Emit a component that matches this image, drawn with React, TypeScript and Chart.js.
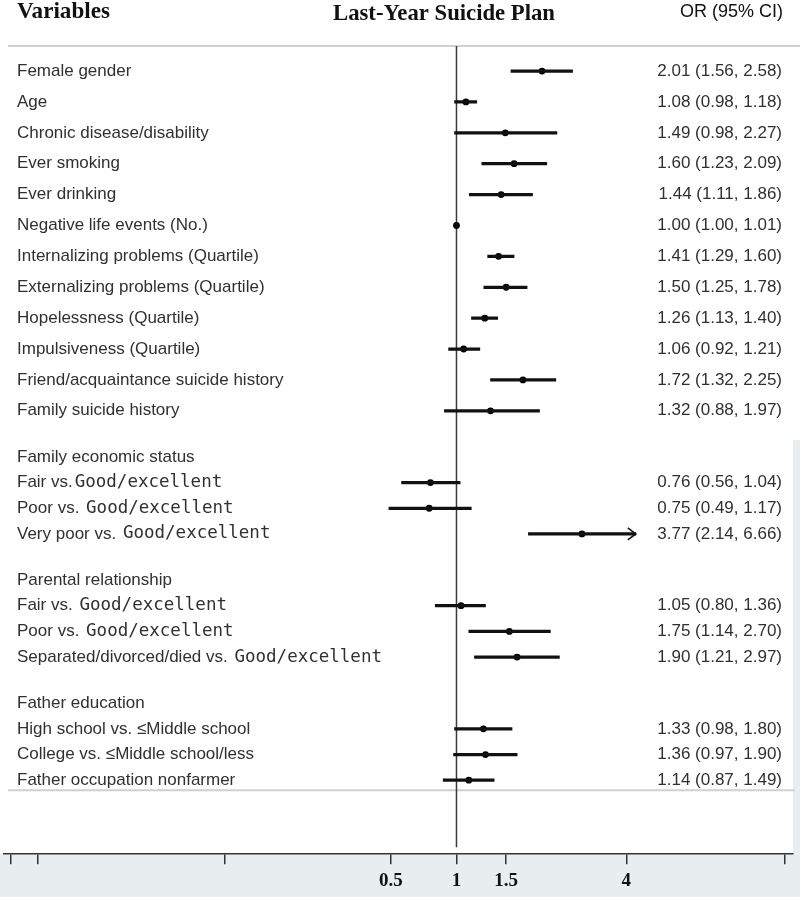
import React, { useEffect, useRef } from 'react';
import { Chart, registerables, LogarithmicScale } from 'chart.js';

// ---------------- data ----------------
const variables = [
  'Female gender',
  'Age',
  'Chronic disease/disability',
  'Ever smoking',
  'Ever drinking',
  'Negative life events (No.)',
  'Internalizing problems (Quartile)',
  'Externalizing problems (Quartile)',
  'Hopelessness (Quartile)',
  'Impulsiveness (Quartile)',
  'Friend/acquaintance suicide history',
  'Family suicide history',
  'Family economic status',
  'Fair vs.Good/excellent',
  'Poor vs. Good/excellent',
  'Very poor vs. Good/excellent',
  'Parental relationship',
  'Fair vs. Good/excellent',
  'Poor vs. Good/excellent',
  'Separated/divorced/died vs. Good/excellent',
  'Father education',
  'High school vs. \u2264Middle school',
  'College vs. \u2264Middle school/less',
  'Father occupation nonfarmer',
];
const oddsRatio = [2.01, 1.08, 1.49, 1.6, 1.44, 1.0, 1.41, 1.5, 1.26, 1.06, 1.72, 1.32, null, 0.76, 0.75, 3.77, null, 1.05, 1.75, 1.9, null, 1.33, 1.36, 1.14];
const ciLower = [1.56, 0.98, 0.98, 1.23, 1.11, 1.0, 1.29, 1.25, 1.13, 0.92, 1.32, 0.88, null, 0.56, 0.49, 2.14, null, 0.8, 1.14, 1.21, null, 0.98, 0.97, 0.87];
const ciUpper = [2.58, 1.18, 2.27, 2.09, 1.86, 1.01, 1.6, 1.78, 1.4, 1.21, 2.25, 1.97, null, 1.04, 1.17, 6.66, null, 1.36, 2.7, 2.97, null, 1.8, 1.9, 1.49];
const axisTickValues = [0.009, 0.012, 0.086, 0.5, 1, 1.5, 4, 14.6];
const axisTickLabels = ['', '', '', '0.5', '1', '1.5', '4', ''];
const headerTexts = ['Variables', 'Last-Year Suicide Plan', 'OR (95% CI)'];
const REF_VALUE = 1;
const ARROW_LIMIT = 4; // CIs reaching past the last labelled tick get an arrow
const MONO_TERM = 'Good/excellent';

// ---------------- layout / style ----------------
const W = 800;
const H = 897;
const PLOT_TOP = 46;
const Y_RANGE = 806;
const FIRST_OFFSET = 25;
const MAIN_STEP = 30.8;
const SUB_STEP = 25.6;
const SECTION_GAP = 46;
const SANS = "17px 'Liberation Sans', Arial, sans-serif";
const MONO = "17.5px 'DejaVu Sans Mono', monospace";
const TEXT = '#303030';
const PANEL_BG = '#e8eef0';

const isHeader = (i: number) => oddsRatio[i] === null;

// row positions follow the table layout: taller rows in the first block, section gaps before headers
const sectionOf: number[] = [];
const rowY: number[] = [];
{
  let y = FIRST_OFFSET;
  let s = 0;
  variables.forEach((_, i) => {
    if (i > 0) {
      if (isHeader(i)) {
        s += 1;
        y += SECTION_GAP;
      } else {
        y += s === 0 ? MAIN_STEP : SUB_STEP;
      }
    }
    sectionOf.push(s);
    rowY.push(y);
  });
}
const mainRows = variables.map((_, i) => i).filter((i) => !isHeader(i) && sectionOf[i] === 0);
const subRows = variables.map((_, i) => i).filter((i) => !isHeader(i) && sectionOf[i] > 0);
const firstHeader = variables.findIndex((_, i) => isHeader(i));

// log scale whose two sides of 1 can have different stretch (the source combines two panels)
class SplitLogScale extends LogarithmicScale {
  static id = 'splitlog';
  static defaults = {};
  buildTicks() {
    const vals: number[] = (this.options as any).tickValues || [];
    return vals.filter((v) => v >= this.min && v <= this.max).map((v) => ({ value: v }));
  }
  _pos(v: number) {
    const o: any = this.options;
    const l = Math.log(v);
    return l < 0 ? l * o.leftWeight : l * o.rightWeight;
  }
  getPixelForValue(value: number) {
    if (value === undefined || value === null || !(value > 0)) return NaN;
    const p0 = this._pos(this.min);
    const p1 = this._pos(this.max);
    return this.getPixelForDecimal((this._pos(value) - p0) / (p1 - p0));
  }
  getValueForPixel(pixel: number) {
    const o: any = this.options;
    const p0 = this._pos(this.min);
    const p1 = this._pos(this.max);
    const p = p0 + this.getDecimalForPixel(pixel) * (p1 - p0);
    return Math.exp(p < 0 ? p / o.leftWeight : p / o.rightWeight);
  }
}

Chart.register(...registerables, SplitLogScale);

function drawLabel(ctx: CanvasRenderingContext2D, text: string, x: number, y: number) {
  const idx = text.indexOf(MONO_TERM);
  ctx.font = SANS;
  if (idx < 0) {
    ctx.fillText(text, x, y);
    return;
  }
  const head = text.slice(0, idx);
  ctx.fillText(head, x, y);
  const w = ctx.measureText(head).width;
  ctx.font = MONO;
  ctx.fillText(text.slice(idx), x + w + 2, y);
}

const fmt = (v: number) => v.toFixed(2);

const decorPlugin = {
  id: 'forestDecor',
  beforeDraw(chart: any) {
    const { ctx, chartArea, width, height } = chart;
    const ys = chart.scales.y;
    ctx.save();
    ctx.fillStyle = '#ffffff';
    ctx.fillRect(0, 0, width, height);
    ctx.fillStyle = PANEL_BG;
    ctx.fillRect(0, chartArea.bottom, width, height - chartArea.bottom);
    const stripTop =
      (ys.getPixelForValue(rowY[firstHeader - 1]) + ys.getPixelForValue(rowY[firstHeader])) / 2 + 6;
    ctx.fillRect(chartArea.right, stripTop, width - chartArea.right, chartArea.bottom - stripTop);
    ctx.strokeStyle = '#d0d0d0';
    ctx.lineWidth = 2;
    ctx.beginPath();
    ctx.moveTo(8, chartArea.top);
    ctx.lineTo(width, chartArea.top);
    const yLast = ys.getPixelForValue(rowY[rowY.length - 1]) + 10;
    ctx.moveTo(8, yLast);
    ctx.lineTo(chartArea.right + 2, yLast);
    ctx.stroke();
    ctx.restore();
  },
  beforeDatasetsDraw(chart: any) {
    const { ctx, chartArea } = chart;
    const x = chart.scales.x.getPixelForValue(REF_VALUE);
    ctx.save();
    ctx.strokeStyle = '#3a3a3a';
    ctx.lineWidth = 1.5;
    ctx.beginPath();
    ctx.moveTo(x, chartArea.top);
    ctx.lineTo(x, chartArea.bottom - 7);
    ctx.stroke();
    ctx.restore();
  },
  afterDatasetsDraw(chart: any) {
    const { ctx } = chart;
    ctx.save();
    ctx.strokeStyle = '#111';
    ctx.lineWidth = 1.6;
    [0, 1].forEach((di) => {
      const rows = di === 0 ? mainRows : subRows;
      const meta = chart.getDatasetMeta(di);
      rows.forEach((r, j) => {
        if ((ciUpper[r] as number) > ARROW_LIMIT) {
          const el = meta.data[j];
          const tip = el.x;
          const y = el.y;
          ctx.beginPath();
          ctx.moveTo(tip - 8, y - 6);
          ctx.lineTo(tip, y);
          ctx.lineTo(tip - 8, y + 6);
          ctx.stroke();
        }
      });
    });
    ctx.restore();
  },
  afterDraw(chart: any) {
    const { ctx } = chart;
    const ys = chart.scales.y;
    ctx.save();
    ctx.textBaseline = 'middle';
    ctx.fillStyle = '#111';
    ctx.textAlign = 'left';
    ctx.font = "bold 24px 'Liberation Serif', 'Times New Roman', serif";
    ctx.fillText(headerTexts[0], 17, 12, 93);
    ctx.fillText(headerTexts[1], 333, 14, 222);
    ctx.font = "18px 'Liberation Sans', Arial, sans-serif";
    ctx.fillText(headerTexts[2], 680, 12, 103);

    ctx.fillStyle = TEXT;
    variables.forEach((label, i) => {
      const y = ys.getPixelForValue(rowY[i]);
      ctx.textAlign = 'left';
      drawLabel(ctx, label, 17, y);
      if (!isHeader(i)) {
        ctx.textAlign = 'right';
        ctx.font = SANS;
        ctx.fillText(
          `${fmt(oddsRatio[i] as number)} (${fmt(ciLower[i] as number)}, ${fmt(ciUpper[i] as number)})`,
          782,
          y
        );
      }
    });
    ctx.restore();
  },
};

export default function App() {
  const ref = useRef<HTMLCanvasElement | null>(null);
  useEffect(() => {
    if (!ref.current) return;
    const barCommon = {
      type: 'bar' as const,
      indexAxis: 'y' as const,
      grouped: false,
      yAxisID: 'y',
      backgroundColor: '#111',
      borderWidth: 0,
      barThickness: 2.6,
    };
    const pointCommon = {
      type: 'scatter' as const,
      yAxisID: 'y',
      backgroundColor: '#000',
      borderColor: '#000',
      borderWidth: 0,
      pointRadius: 3.4,
      pointHoverRadius: 3.4,
    };
    const chart = new Chart(ref.current, {
      type: 'scatter',
      data: {
        datasets: [
          { ...barCommon, xAxisID: 'x', data: mainRows.map((i) => ({ x: [ciLower[i], ciUpper[i]], y: rowY[i] })) },
          { ...barCommon, xAxisID: 'x2', data: subRows.map((i) => ({ x: [ciLower[i], ciUpper[i]], y: rowY[i] })) },
          { ...pointCommon, xAxisID: 'x', data: mainRows.map((i) => ({ x: oddsRatio[i], y: rowY[i] })) },
          { ...pointCommon, xAxisID: 'x2', data: subRows.map((i) => ({ x: oddsRatio[i], y: rowY[i] })) },
        ] as any,
      },
      options: {
        responsive: false,
        animation: false,
        devicePixelRatio: 1,
        layout: { padding: { top: PLOT_TOP, left: 0, right: 7, bottom: 0 } },
        plugins: { legend: { display: false }, tooltip: { enabled: false }, title: { display: false } },
        events: [],
        scales: {
          x: {
            type: 'splitlog' as any,
            position: 'bottom',
            min: 0.00832,
            max: 15.6,
            offset: false,
            leftWeight: 95,
            rightWeight: 123,
            tickValues: axisTickValues,
            grid: {
              display: true,
              drawOnChartArea: false,
              drawTicks: true,
              tickLength: 10,
              color: '#333',
              lineWidth: 1.5,
            },
            border: { display: true, color: '#333', width: 1.5 },
            ticks: {
              autoSkip: false,
              maxRotation: 0,
              padding: 5,
              color: '#111',
              font: { family: "'Liberation Serif', 'Times New Roman', serif", size: 19, weight: 'bold' },
              callback: (value: any) => {
                const k = axisTickValues.indexOf(Number(value));
                return k >= 0 ? axisTickLabels[k] : '';
              },
            },
          } as any,
          x2: {
            type: 'splitlog' as any,
            axis: 'x',
            position: 'bottom',
            display: false,
            min: 0.00832,
            max: 35.1,
            offset: false,
            leftWeight: 95,
            rightWeight: 95,
            tickValues: [],
          } as any,
          y: {
            type: 'linear',
            min: 0,
            max: Y_RANGE,
            reverse: true,
            display: false,
            offset: false,
          },
        },
      },
      plugins: [decorPlugin],
    });
    return () => chart.destroy();
  }, []);
  return (
    <div style={{ position: 'absolute', left: 0, top: 0, width: W, height: H, background: '#fff' }}>
      <canvas ref={ref} width={W} height={H} style={{ display: 'block', width: W, height: H }} />
    </div>
  );
}
